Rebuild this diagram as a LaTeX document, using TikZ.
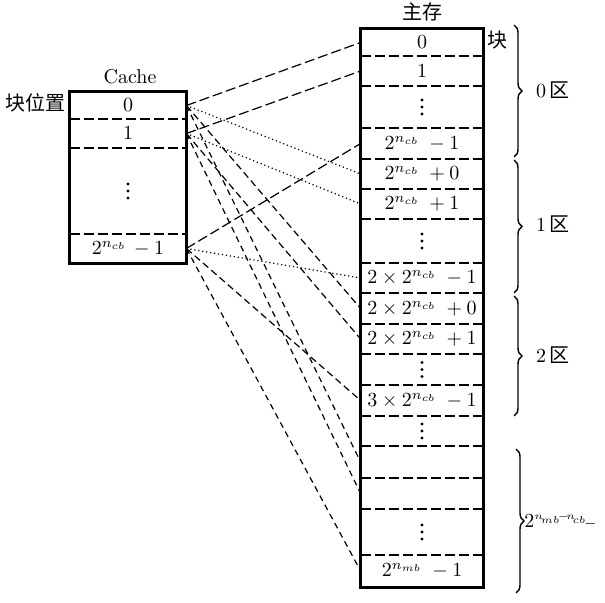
\documentclass[tikz,border=0pt]{standalone}
\usepackage{amsmath}
\usepackage{fontspec}
\newfontfamily\cjk{Noto Sans CJK SC}
\usepackage{tikz}
\usetikzlibrary{decorations.pathreplacing}

\begin{document}
\begin{tikzpicture}[x=0.5pt, y=-0.5pt,
    box/.style={line width=1.2pt},
    sep/.style={line width=0.9pt, dash pattern=on 5pt off 2pt},
    zoneA/.style={line width=0.6pt, dash pattern=on 5pt off 2pt},
    zoneB/.style={line width=0.6pt, dash pattern=on 0.6pt off 1.4pt},
    zoneC/.style={line width=0.6pt, dash pattern=on 3.5pt off 2pt},
    zoneD/.style={line width=0.6pt, dash pattern=on 3pt off 2.2pt},
    brc/.style={line width=0.7pt, decorate, decoration={brace, amplitude=4pt}}]
    \useasboundingbox (0,0) rectangle (605,603);

    % Cache rows
    \foreach \n/\t/\b/\txt in {0/92/119/$0$, 1/119/148/$1$, 2/148/234/{},
        3/234/263/$2^{n_{cb}}\,-1$} {
        \node[inner sep=0pt, minimum width=58pt, minimum height={(\b-\t)*0.5pt}]
            (c\n) at (128,{(\t+\b)/2}) {\txt};
    }
    \foreach \n in {0,1,2}
        \draw[sep] (c\n.south west) -- (c\n.south east);
    \draw[box] (c0.north west) rectangle (c3.south east);
    \node (cache) at (130,77) {Cache};
    \node[anchor=east, inner sep=1pt] (pos) at (68,103) {\cjk 块位置};

    % main memory rows
    \foreach \n/\t/\b/\txt in {0/29/56/$0$, 1/56/86/$1$, 2/86/128/{},
        3/128/159/$2^{n_{cb}}\;-1$, 4/159/189/$2^{n_{cb}}\;+0$, 5/189/219/$2^{n_{cb}}\;+1$,
        6/219/263/{}, 7/263/293/$2\times2^{n_{cb}}\;-1$,
        8/293/324/$2\times2^{n_{cb}}\;+0$, 9/324/354/$2\times2^{n_{cb}}\;+1$,
        10/354/385/{}, 11/385/416/$3\times2^{n_{cb}}\;-1$, 12/416/446/{},
        13/446/478/{}, 14/478/509/{}, 15/509/555/{}, 16/555/587/$2^{n_{mb}}\;-1$} {
        \node[inner sep=0pt, minimum width=61pt, minimum height={(\b-\t)*0.5pt}]
            (m\n) at (422,{(\t+\b)/2}) {\txt};
    }
    \foreach \n in {0,...,15}
        \draw[sep] (m\n.south west) -- (m\n.south east);
    \draw[box] (m0.north west) rectangle (m16.south east);
    \node (mem) at (422,12) {\cjk 主存};
    \node (blk) at (497,40) {\cjk 块};

    % vertical dots
    \foreach \d in {-3.5,0,3.5} {
        \fill ([yshift=\d pt]c2.center) circle (0.8pt);
        \foreach \n in {2,6,10,12,15}
            \fill ([yshift=\d pt]m\n.center) circle (0.8pt);
    }

    % mapping lines
    \draw[zoneA] (c0.east) -- (m0.west);
    \draw[zoneA] (c1.east) -- (m1.west);
    \draw[zoneA] (c3.east) -- (m3.west);
    \draw[zoneB] (c0.east) -- (m4.west);
    \draw[zoneB] (c1.east) -- (m5.west);
    \draw[zoneB] (c3.east) -- (m7.west);
    \draw[zoneC] (c0.east) -- (m8.west);
    \draw[zoneC] (c1.east) -- (m9.west);
    \draw[zoneC] (c3.east) -- (m11.west);
    \draw[zoneD] (c0.east) -- (m13.west);
    \draw[zoneD] (c1.east) -- (m14.west);
    \draw[zoneD] (c3.east) -- (m16.west);

    % zones
    \draw[brc] (514,25) -- (514,157);
    \draw[brc] (514,160) -- (514,293);
    \draw[brc] (514,296) -- (514,416);
    \draw[brc] (516,449) -- (516,593);
    \node[anchor=west] (z0) at (529,90) {$0$\,{\cjk 区}};
    \node[anchor=west] (z1) at (529,224) {$1$\,{\cjk 区}};
    \node[anchor=west] (z2) at (529,355) {$2$\,{\cjk 区}};
    \node[anchor=west, inner sep=0pt] (z3) at (524,521)
        {$2^{\scriptscriptstyle n_{\!mb}\!-\!n_{\!cb}}\!{\scriptstyle -}$};
\end{tikzpicture}
\end{document}
